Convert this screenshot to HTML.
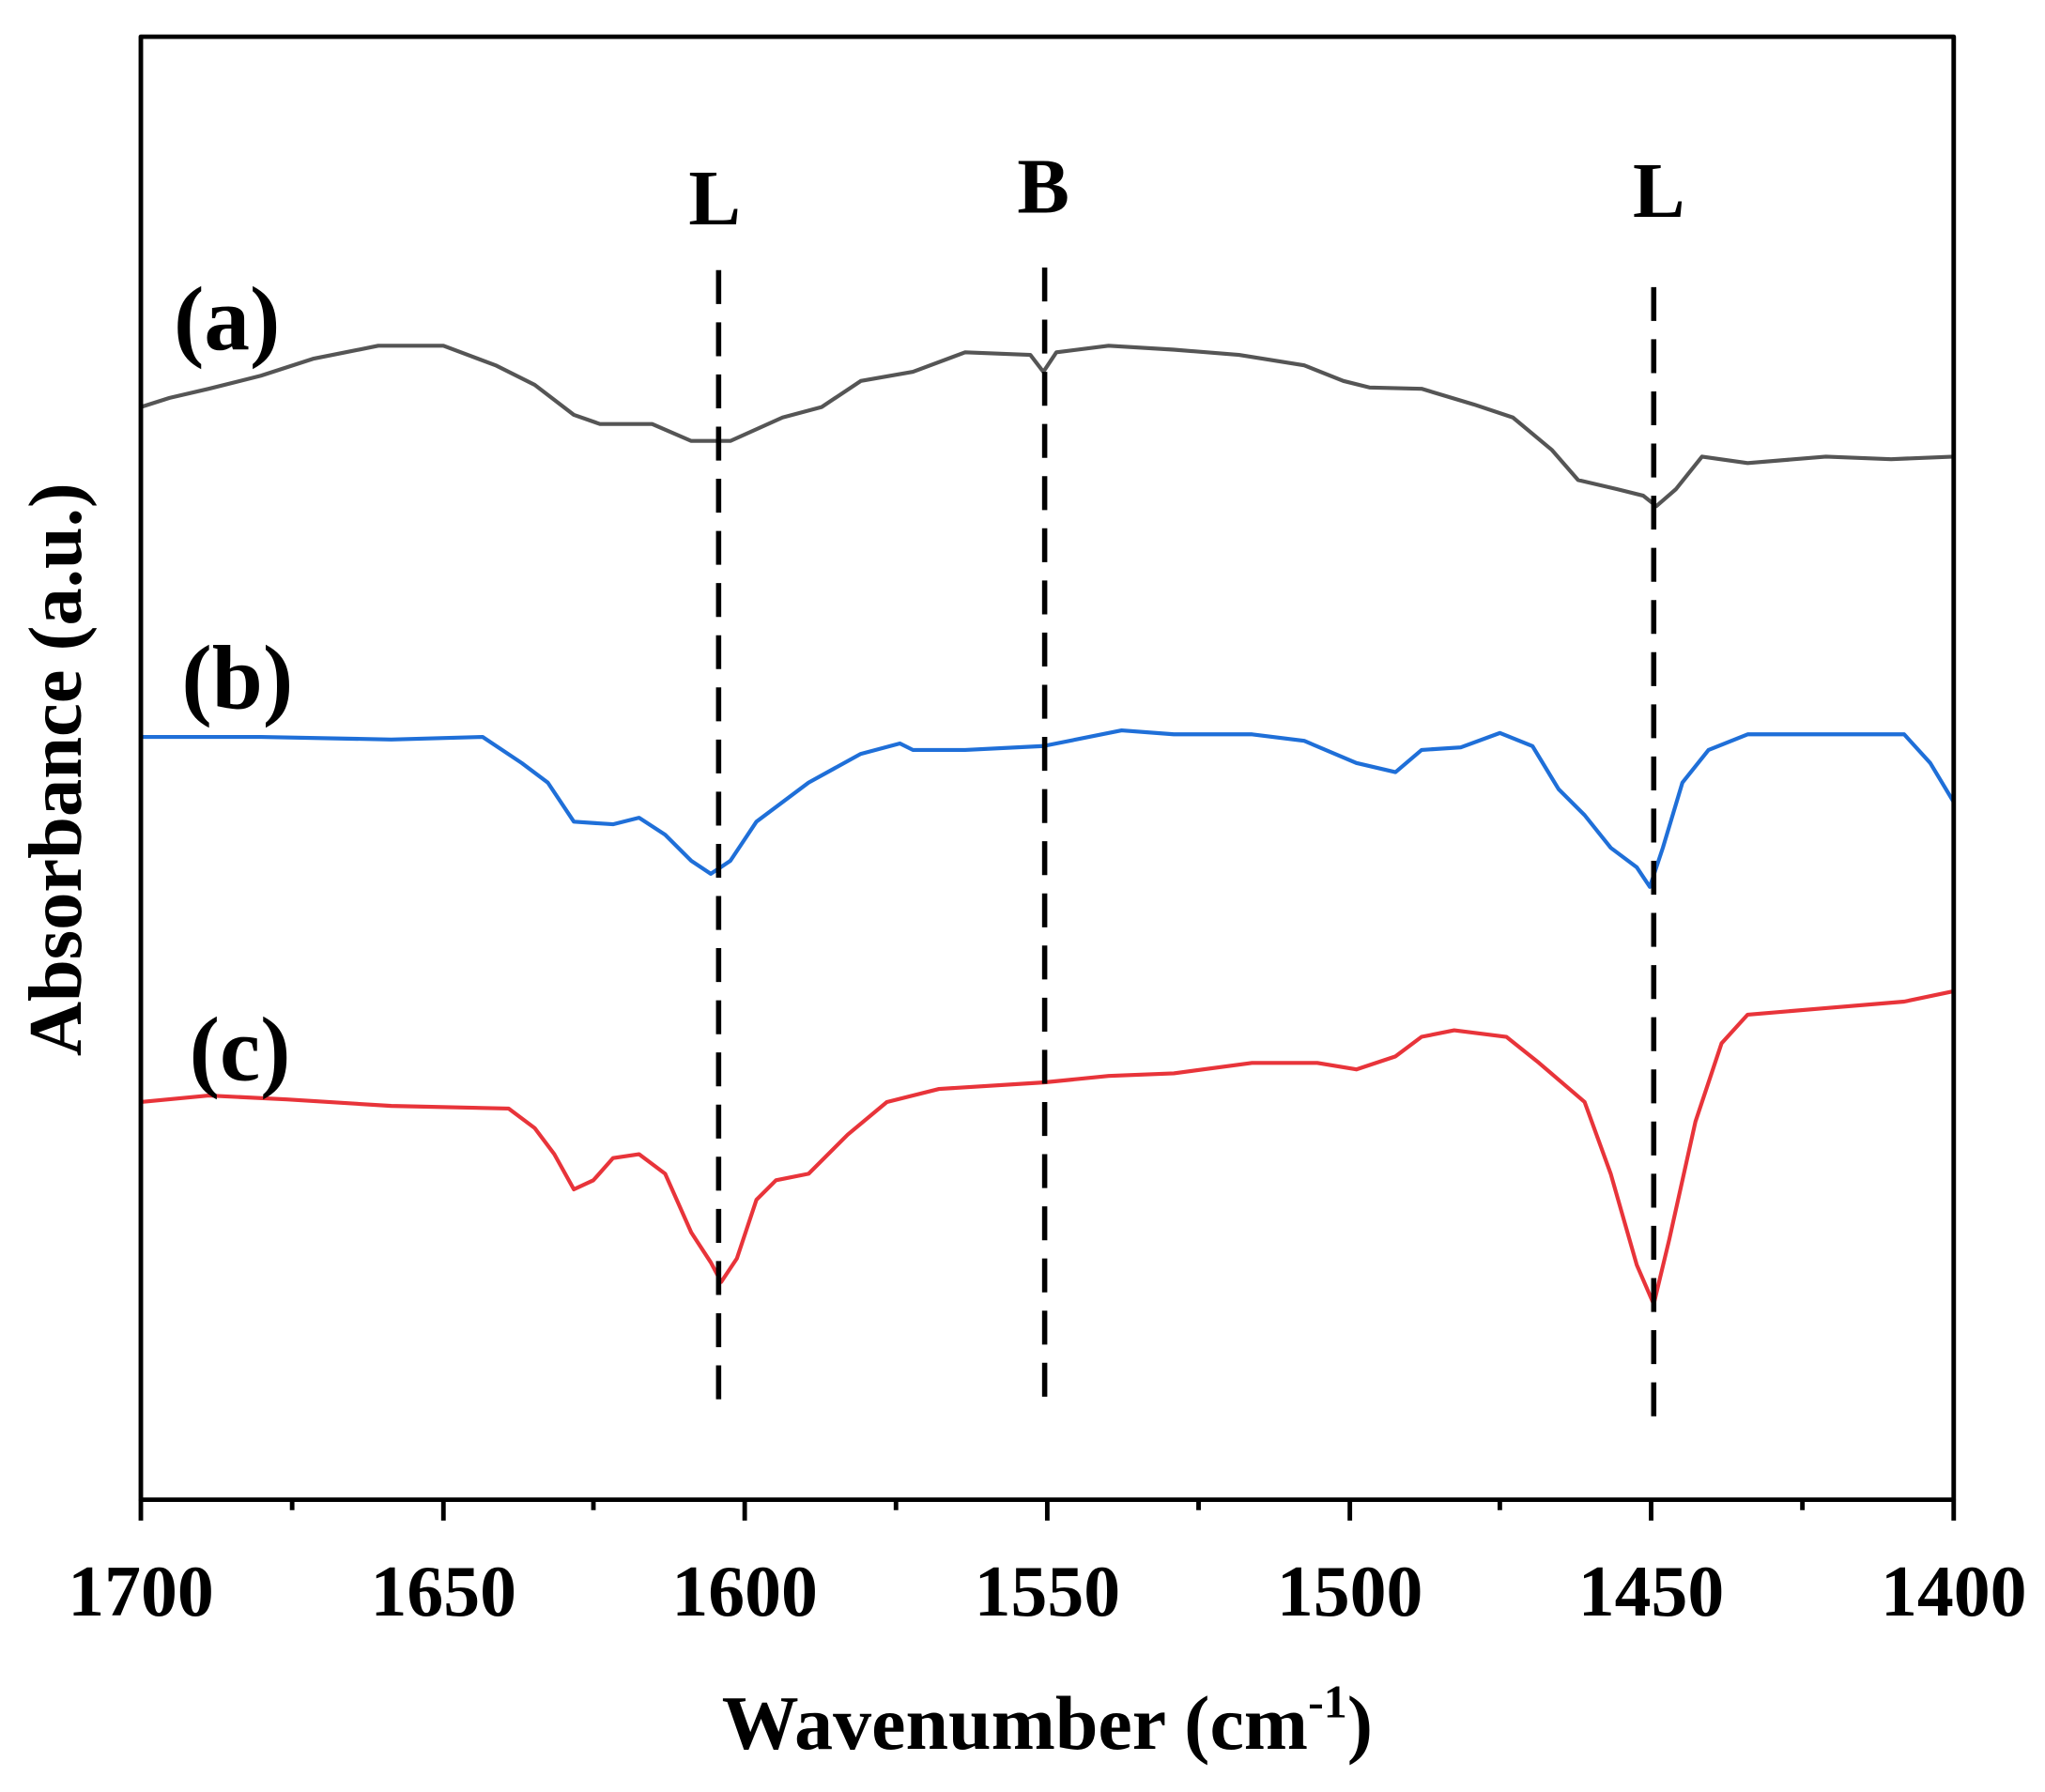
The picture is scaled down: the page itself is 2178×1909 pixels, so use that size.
<!DOCTYPE html>
<html><head><meta charset="utf-8"><style>html,body{margin:0;padding:0;background:#fff}svg{display:block}</style></head>
<body>
<svg width="2178" height="1909" viewBox="0 0 1568 1374" xmlns="http://www.w3.org/2000/svg" font-family="'Liberation Serif',serif" font-weight="bold">
<rect width="1568" height="1374" fill="#fff"/>
<g fill="none" stroke-linejoin="round">
<polyline stroke="#555" stroke-width="3" points="108,312 130,305 160,298 200,288 240,275 290,265 340,265 380,280 410,295 440,318 460,325 500,325 530,338 560,338 600,320 630,312 660,292 700,285 740,270 790,272 800,285 810,270 850,265 900,268 950,272 1000,280 1030,292 1050,297 1090,298 1130,310 1160,320 1190,345 1210,368 1240,375 1260,380 1270,388 1285,375 1305,350 1340,355 1400,350 1450,352 1498,350"/>
<polyline stroke="#1f6fd8" stroke-width="3" points="108,565 150,565 200,565 300,567 370,565 400,585 420,600 440,630 470,632 490,627 510,640 530,660 545,670 560,660 580,630 620,600 660,578 690,570 700,575 740,575 800,572 860,560 900,563 960,563 1000,568 1040,585 1070,592 1090,575 1120,573 1150,562 1175,572 1195,605 1215,625 1235,650 1255,665 1265,680 1275,650 1290,600 1310,575 1340,563 1400,563 1460,563 1480,585 1498,615"/>
<polyline stroke="#e8343a" stroke-width="3" points="108,845 160,840 220,843 300,848 390,850 410,865 425,885 440,912 455,905 470,888 490,885 510,900 530,945 545,968 553,983 565,965 580,920 595,905 620,900 650,870 680,845 720,835 800,830 850,825 900,823 960,815 1010,815 1040,820 1070,810 1090,795 1115,790 1155,795 1180,815 1215,845 1235,900 1255,970 1268,1000 1280,950 1300,860 1320,800 1340,778 1400,773 1460,768 1498,760"/>
<g stroke="#000" stroke-width="4" stroke-dasharray="26,14">
<line x1="551" y1="207" x2="551" y2="1086"/>
<line x1="801" y1="205" x2="801" y2="1080"/>
<line x1="1268" y1="220" x2="1268" y2="1097"/>
</g>
<rect x="108" y="28" width="1390" height="1122" stroke="#000" stroke-width="3.5"/>
<g stroke="#000" stroke-width="3.5">
<line x1="108" y1="1150" x2="108" y2="1166"/><line x1="340" y1="1150" x2="340" y2="1166"/><line x1="571" y1="1150" x2="571" y2="1166"/><line x1="803" y1="1150" x2="803" y2="1166"/><line x1="1035" y1="1150" x2="1035" y2="1166"/><line x1="1266" y1="1150" x2="1266" y2="1166"/><line x1="1498" y1="1150" x2="1498" y2="1166"/>
<line x1="224" y1="1150" x2="224" y2="1158"/><line x1="455" y1="1150" x2="455" y2="1158"/><line x1="687" y1="1150" x2="687" y2="1158"/><line x1="919" y1="1150" x2="919" y2="1158"/><line x1="1150" y1="1150" x2="1150" y2="1158"/><line x1="1382" y1="1150" x2="1382" y2="1158"/>
</g>
</g>
<g font-size="56" text-anchor="middle" fill="#000">
<text x="108" y="1239">1700</text><text x="340" y="1239">1650</text><text x="571" y="1239">1600</text><text x="803" y="1239">1550</text><text x="1035" y="1239">1500</text><text x="1266" y="1239">1450</text><text x="1498" y="1239">1400</text>
</g>
<text x="803" y="1341" font-size="59" text-anchor="middle">Wavenumber (cm<tspan font-size="36" dy="-24">-1</tspan><tspan dy="24">)</tspan></text>
<text transform="translate(62,590) rotate(-90)" font-size="58" text-anchor="middle">Absorbance (a.u.)</text>
<g font-size="60" text-anchor="middle">
<text x="548" y="172">L</text><text x="800" y="163">B</text><text x="1272" y="166">L</text>
</g>
<g font-size="70" text-anchor="middle">
<text x="174" y="268">(a)</text><text x="182" y="543">(b)</text><text x="184" y="828">(c)</text>
</g>
</svg>
</body></html>
